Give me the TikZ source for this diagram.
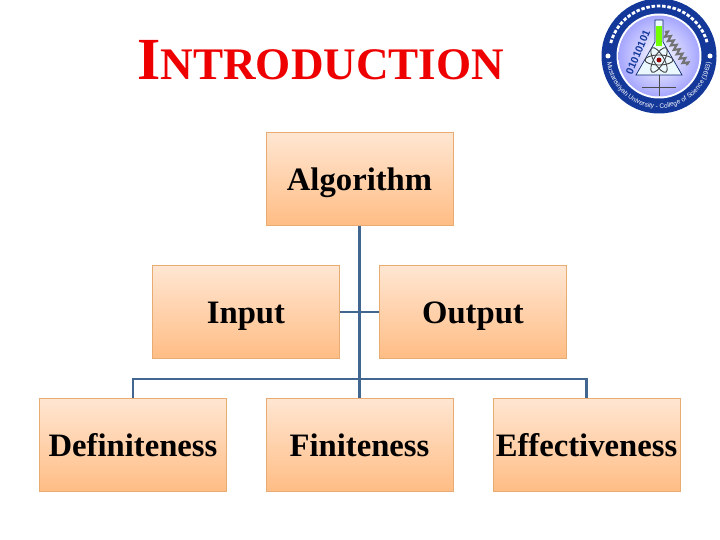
\documentclass[tikz,border=0pt]{standalone}
\usepackage{fontspec}
\setmainfont{Liberation Serif}
\newfontfamily\logofont{Liberation Sans}
\usetikzlibrary{calc,decorations.text,decorations.pathmorphing}

\definecolor{boxtop}{HTML}{FFE6D2}
\definecolor{boxbottom}{HTML}{FFBD85}
\definecolor{boxline}{HTML}{E8AC72}
\definecolor{treeline}{HTML}{41668F}
\definecolor{titlered}{HTML}{EE0000}
\definecolor{sealblue}{HTML}{14389A}

\tikzset{
  titlebox/.style={inner sep=0pt, text=titlered, font=\bfseries},
  treebox/.style={draw=boxline, line width=0.5pt, top color=boxtop, bottom color=boxbottom,
    minimum width=3.74cm, minimum height=1.85cm, inner sep=0pt, text height=0.5cm, text depth=0.04cm,
    font=\fontsize{18.6}{22}\selectfont\bfseries},
  treelink/.style={draw=treeline, line width=1.6pt},
}

\begin{document}
\begin{tikzpicture}[x=0.02cm, y=-0.02cm, line cap=butt, line join=miter]
\useasboundingbox (0,0) rectangle (720,540);
% title
\node[titlebox, anchor=base west] (title) at (137,80)
  {\fontsize{34}{34}\selectfont I\fontsize{25.7}{34}\selectfont NTRODUCTION};
% boxes
\node[treebox] (algorithm) at (359.5,179) {Algorithm};
\node[treebox] (input) at (246,312) {Input};
\node[treebox] (output) at (473,312) {Output};
\node[treebox] (definiteness) at (133,445) {Definiteness};
\node[treebox] (finiteness) at (359.5,445) {Finiteness};
\node[treebox] (effectiveness) at (586.5,445) {Effectiveness};
% links
\coordinate (bus) at (360,379);
\draw[treelink] (algorithm) -- (finiteness);
\draw[treelink] (input) -- (output);
\draw[treelink] (definiteness.north) |- (bus) -| (effectiveness.north);
% seal
\begin{scope}[shift={(659,56)}, y=0.02cm]
  \fill[sealblue] (0,0) circle (57.5);
  \fill[white] (0,0) circle (42.5);
  \shade[inner color=white, outer color=blue!35] (0,0) circle (40.5);
  \fill[white] (-51,0) circle (2.5);
  \fill[white] (51,0) circle (2.5);
  % flask
  \draw[sealblue!70!black, line width=0.4pt, fill=cyan!8] (-4,36) -- (4,36) -- (4,14) -- (23,-19) -- (-23,-19) -- (-4,14) -- cycle;
  \fill[green!55!yellow] (-3,30) -- (3,30) -- (3,10) -- (-3,10) -- cycle;
  % atom
  \foreach \a in {0,60,120} {
    \draw[black!75, line width=0.5pt, rotate around={\a:(0,-4)}] (0,-4) ellipse (14 and 5);
  }
  \fill[red!60!black] (0,-4) circle (2.5);
  % graph
  \draw[black!70, line width=0.4pt] (0,-19) -- (0,-40);
  \draw[black!70, line width=0.4pt] (-17,-31) -- (17,-31);
  % strand
  \draw[black!55, line width=1.2pt, decorate, decoration={zigzag, segment length=3, amplitude=1.5}] (6,24) -- (28,-9);
  \node[rotate=67, text=sealblue, font=\logofont\bfseries\fontsize{6}{6}\selectfont, inner sep=0pt] (bits) at (-21,4) {01010101};
  % ring text
  \path[decorate, decoration={text along path, text align=center,
    text={|\logofont\fontsize{3.7}{4}\selectfont\color{white}|Mustansiriyah University - College of Science (1963)}}]
    (-52,-3) arc (183:357:52);
  \draw[white, line width=1.6pt, dash pattern=on 2pt off 1pt] (0,0) ++(165:50) arc (165:15:50);
\end{scope}
\end{tikzpicture}
\end{document}
